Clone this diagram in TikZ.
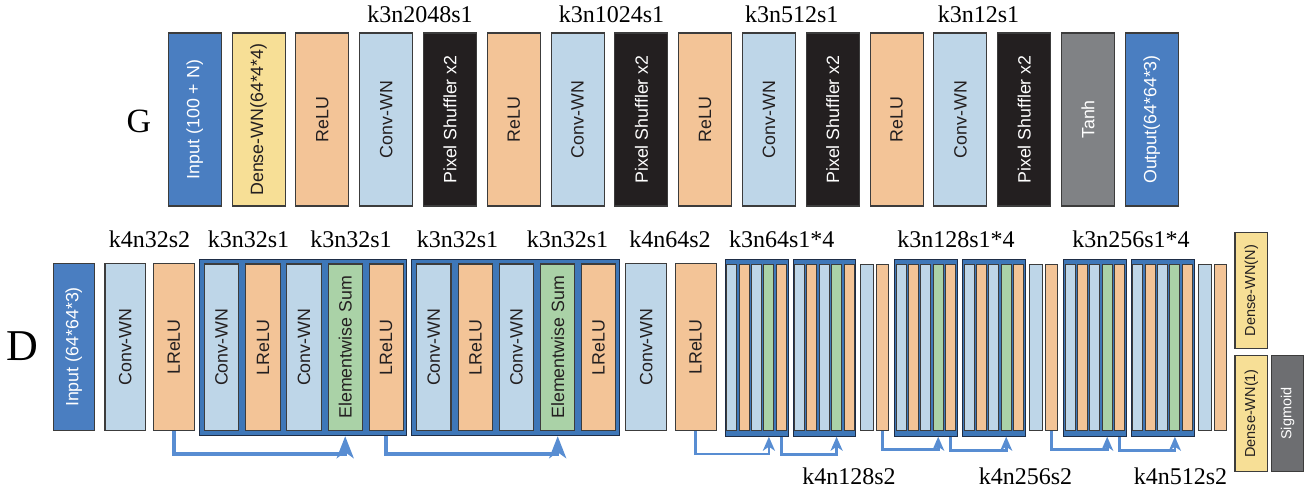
\documentclass[tikz,border=0pt]{standalone}
\usepackage{fontspec}
\setmainfont{Liberation Serif}
\setsansfont{Liberation Sans}
\usepackage{graphicx}
\usetikzlibrary{arrows.meta}

\definecolor{cInput}{RGB}{74,126,193}
\definecolor{cDense}{RGB}{247,223,150}
\definecolor{cRelu}{RGB}{243,196,151}
\definecolor{cConv}{RGB}{190,214,232}
\definecolor{cShuf}{RGB}{35,31,32}
\definecolor{cTanh}{RGB}{128,130,133}
\definecolor{cSum}{RGB}{170,210,167}
\definecolor{cFrame}{RGB}{62,119,184}
\definecolor{cFrameEdge}{RGB}{30,45,70}
\definecolor{cSig}{RGB}{109,110,113}
\definecolor{cEdge}{RGB}{60,60,60}
\definecolor{cSkip}{RGB}{88,141,210}
\definecolor{cText}{RGB}{35,31,32}

\tikzset{
  lyr/.style={draw=cEdge, line width=1.1pt, inner sep=0pt, text=cText,
    font=\sffamily\fontsize{17.8}{18}\selectfont},
  gbox/.style={lyr, minimum width=53pt, minimum height=173pt},
  dbox/.style={lyr, minimum width=40.7pt, minimum height=167.4pt},
  ibox/.style={lyr, minimum width=34.3pt, minimum height=166.7pt},
  midbar/.style={lyr, line width=0.9pt, minimum width=12.6pt, minimum height=166.7pt},
  thinbar/.style={lyr, line width=0.9pt, minimum width=10pt, minimum height=166.7pt},
  headbox/.style={lyr, minimum width=32.7pt, minimum height=115.3pt,
    font=\sffamily\fontsize{14.5}{15}\selectfont},
  bigframe/.style={draw=cFrameEdge, fill=cFrame, line width=1pt, inner sep=0pt,
    minimum width=207.7pt, minimum height=176.4pt},
  smallframe/.style={draw=cFrameEdge, fill=cFrame, line width=1pt, inner sep=0pt,
    minimum width=62.6pt, minimum height=176.4pt},
  inbox/.style={fill=cInput, text=white},
  densebox/.style={fill=cDense},
  relubox/.style={fill=cRelu},
  convbox/.style={fill=cConv},
  shufbox/.style={fill=cShuf, text=white},
  tanhbox/.style={fill=cTanh, text=white},
  sumbox/.style={fill=cSum},
  sigbox/.style={fill=cSig, text=white},
  spec/.style={anchor=base, inner sep=0pt, font=\fontsize{24}{26}\selectfont},
  bigskip/.style={draw=cSkip, line width=3.5pt, -{Stealth[length=22pt,width=17pt,inset=6pt]}},
  smallskip/.style={draw=cSkip, line width=2.6pt, -{Stealth[length=14pt,width=12pt,inset=4pt]}},
}

\begin{document}
\begin{tikzpicture}[x=1pt,y=-1pt]
\useasboundingbox (0,0) rectangle (1307,489);

% generator
\node[anchor=base, inner sep=0pt, font=\fontsize{34}{34}\selectfont] (gname) at (139,132.3) {G};
\node[gbox,inbox] (g1) at (194.8,119.5) {\rotatebox{90}{Input (100 + N)}};
\node[gbox,densebox] (g2) at (258.6,119.5) {\rotatebox{90}{Dense-WN(64*4*4)}};
\node[gbox,relubox] (g3) at (322.4,119.5) {\rotatebox{90}{ReLU}};
\node[gbox,convbox] (g4) at (386.2,119.5) {\rotatebox{90}{Conv-WN}};
\node[gbox,shufbox] (g5) at (450,119.5) {\rotatebox{90}{Pixel Shuffler x2}};
\node[gbox,relubox] (g6) at (513.8,119.5) {\rotatebox{90}{ReLU}};
\node[gbox,convbox] (g7) at (577.6,119.5) {\rotatebox{90}{Conv-WN}};
\node[gbox,shufbox] (g8) at (641.4,119.5) {\rotatebox{90}{Pixel Shuffler x2}};
\node[gbox,relubox] (g9) at (705.2,119.5) {\rotatebox{90}{ReLU}};
\node[gbox,convbox] (g10) at (769,119.5) {\rotatebox{90}{Conv-WN}};
\node[gbox,shufbox] (g11) at (832.8,119.5) {\rotatebox{90}{Pixel Shuffler x2}};
\node[gbox,relubox] (g12) at (896.6,119.5) {\rotatebox{90}{ReLU}};
\node[gbox,convbox] (g13) at (960.4,119.5) {\rotatebox{90}{Conv-WN}};
\node[gbox,shufbox] (g14) at (1024.2,119.5) {\rotatebox{90}{Pixel Shuffler x2}};
\node[gbox,tanhbox] (g15) at (1088,119.5) {\rotatebox{90}{Tanh}};
\node[gbox,inbox] (g16) at (1151.8,119.5) {\rotatebox{90}{Output(64*64*3)}};

\node[spec] (gk1) at (420,23) {k3n2048s1};
\node[spec] (gk2) at (611.5,23) {k3n1024s1};
\node[spec] (gk3) at (791.7,23) {k3n512s1};
\node[spec] (gk4) at (978.5,23) {k3n12s1};

% discriminator
\node[anchor=base, inner sep=0pt, font=\fontsize{44}{44}\selectfont] (dname) at (22,360) {D};
\node[dbox,inbox] (d1) at (73.7,347) {\rotatebox{90}{Input (64*64*3)}};
\node[dbox,convbox] (d2) at (125.3,347) {\rotatebox{90}{Conv-WN}};
\node[dbox,relubox] (d3) at (173.8,347) {\rotatebox{90}{LReLU}};

\node[bigframe] (f1) at (302.85,347.5) {};
\node[ibox,convbox] (f1a) at (221.5,347.35) {\rotatebox{90}{Conv-WN}};
\node[ibox,relubox] (f1b) at (263,347.35) {\rotatebox{90}{LReLU}};
\node[ibox,convbox] (f1c) at (304,347.35) {\rotatebox{90}{Conv-WN}};
\node[ibox,sumbox] (f1d) at (345.2,347.35) {\rotatebox{90}{Elementwise Sum}};
\node[ibox,relubox] (f1e) at (386.2,347.35) {\rotatebox{90}{LReLU}};

\node[bigframe] (f2) at (515.5,347.5) {};
\node[ibox,convbox] (f2a) at (433.8,347.35) {\rotatebox{90}{Conv-WN}};
\node[ibox,relubox] (f2b) at (475.7,347.35) {\rotatebox{90}{LReLU}};
\node[ibox,convbox] (f2c) at (516.5,347.35) {\rotatebox{90}{Conv-WN}};
\node[ibox,sumbox] (f2d) at (557.7,347.35) {\rotatebox{90}{Elementwise Sum}};
\node[ibox,relubox] (f2e) at (598.5,347.35) {\rotatebox{90}{LReLU}};

\node[dbox,convbox] (d4) at (646.2,347) {\rotatebox{90}{Conv-WN}};
\node[dbox,relubox] (d5) at (695.7,347) {\rotatebox{90}{LReLU}};

% residual blocks, drawn narrow
\foreach \f/\x in {A/725,B/792.7,C/894.3,D/962.3,E/1063.3,F/1131}{
  \node[smallframe,anchor=north west] (fr\f) at (\x,259.3) {};
  \foreach \i/\s in {1/convbox,2/relubox,3/convbox,4/sumbox,5/relubox}
    \node[thinbar,\s] (fr\f\i) at ({\x+6.7+12.4*(\i-1)},347.35) {};
}
\node[midbar,convbox] (s1) at (867,347.35) {};
\node[midbar,relubox] (s2) at (882.3,347.35) {};
\node[midbar,convbox] (s3) at (1036,347.35) {};
\node[midbar,relubox] (s4) at (1051.3,347.35) {};
\node[midbar,convbox] (s5) at (1205.2,347.35) {};
\node[midbar,relubox] (s6) at (1220.5,347.35) {};

\node[headbox,densebox] (h1) at (1251.35,290.5) {\rotatebox{90}{Dense-WN(N)}};
\node[headbox,densebox] (h2) at (1251.35,413.5) {\rotatebox{90}{Dense-WN(1)}};
\node[headbox,sigbox] (h3) at (1287.5,413.5) {\rotatebox{90}{Sigmoid}};

\node[spec] (dk1) at (149.5,248) {k4n32s2};
\node[spec] (dk2) at (248.5,248) {k3n32s1};
\node[spec] (dk3) at (351,248) {k3n32s1};
\node[spec] (dk4) at (457.5,248) {k3n32s1};
\node[spec] (dk5) at (567.5,248) {k3n32s1};
\node[spec] (dk6) at (670,248) {k4n64s2};
\node[spec] (dk7) at (781.7,248) {k3n64s1*4};
\node[spec] (dk8) at (956,248) {k3n128s1*4};
\node[spec] (dk9) at (1131,248) {k3n256s1*4};
\node[spec] (dk10) at (849,484) {k4n128s2};
\node[spec] (dk11) at (1025.5,484) {k4n256s2};
\node[spec] (dk12) at (1180.5,484) {k4n512s2};

% skip connections
\draw[bigskip] (d3.south) -- ++(0,22.6) -| (f1.south -| f1d);
\draw[bigskip] (f1.south -| f1e) -- ++(0,17.6) -| (f2.south -| f2d);
\draw[smallskip] (d5.south) -- ++(0,22.6) -| (frA.south -| frA4);
\draw[smallskip] (frA.south -| frA5) -- ++(0,17.6) -| (frB.south -| frB4);
\draw[smallskip] (s2.south) -- ++(0,18.6) -| (frC.south -| frC4);
\draw[smallskip] (frC.south -| frC5) -- ++(0,13.6) -| (frD.south -| frD4);
\draw[smallskip] (s4.south) -- ++(0,18.6) -| (frE.south -| frE4);
\draw[smallskip] (frE.south -| frE5) -- ++(0,13.6) -| (frF.south -| frF4);
\end{tikzpicture}
\end{document}
